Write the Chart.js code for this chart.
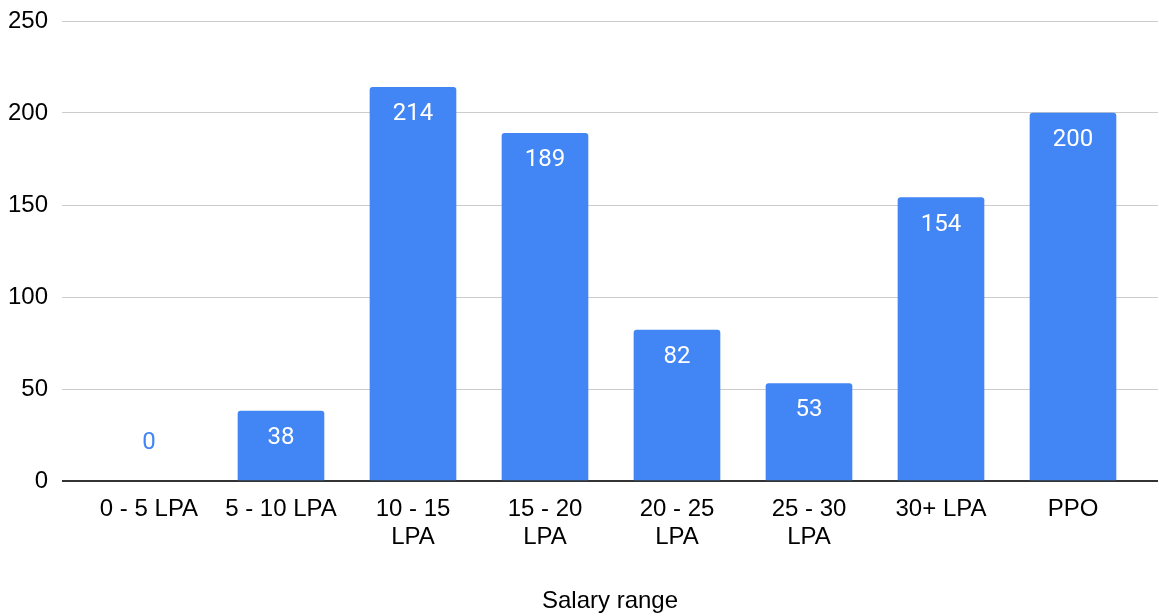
<!DOCTYPE html>
<html>
<head>
<meta charset="utf-8">
<script src="https://cdn.jsdelivr.net/npm/chart.js@4/dist/chart.umd.min.js"></script>
<style>
html,body{margin:0;padding:0;background:#fff;}
#wrap{width:1159px;height:616px;position:relative;}
</style>
</head>
<body>
<div id="wrap"><canvas id="c" width="1159" height="616"></canvas></div>
<script>
const categories = [
  '0 - 5 LPA',
  '5 - 10 LPA',
  ['10 - 15', 'LPA'],
  ['15 - 20', 'LPA'],
  ['20 - 25', 'LPA'],
  ['25 - 30', 'LPA'],
  '30+ LPA',
  'PPO'
];
const values = [0, 38, 214, 189, 82, 53, 154, 200];
const yTicks = [0, 50, 100, 150, 200, 250];
const axisTitle = 'Salary range';

const BLUE = '#4285F4';
const points = values.map((v, i) => ({ x: i, y: v }));

const labelPlugin = {
  id: 'valueLabels',
  afterDatasetsDraw(chart) {
    const ctx = chart.ctx;
    const meta = chart.getDatasetMeta(0);
    ctx.save();
    ctx.font = '24px Roboto';
    ctx.textAlign = 'center';
    ctx.textBaseline = 'middle';
    meta.data.forEach((bar, i) => {
      const v = values[i];
      if (v === 0) {
        ctx.fillStyle = BLUE;
        ctx.fillText(String(v), bar.x, bar.base - 38);
      } else {
        ctx.fillStyle = '#ffffff';
        ctx.fillText(String(v), bar.x, bar.y + 27);
      }
    });
    ctx.restore();
  }
};

new Chart(document.getElementById('c'), {
  type: 'bar',
  data: {
    datasets: [{
      data: points,
      backgroundColor: (c) => (c.raw && c.raw.y === 0) ? 'rgba(0,0,0,0)' : BLUE,
      borderRadius: 3,
      barThickness: 86
    }]
  },
  options: {
    responsive: false,
    animation: false,
    events: [],
    layout: { padding: { top: 21, right: 1, left: 0, bottom: 0 } },
    plugins: { legend: { display: false }, tooltip: { enabled: false } },
    scales: {
      x: {
        type: 'linear',
        offset: false,
        min: -0.659,
        max: 7.644,
        grid: { display: false, offset: false },
        border: { display: false },
        ticks: {
          stepSize: 1,
          includeBounds: false,
          autoSkip: false,
          maxRotation: 0,
          padding: 6,
          color: '#000',
          font: { family: 'Liberation Sans, Arial', size: 24, lineHeight: 1.17 },
          callback: (v) => (Number.isInteger(v) && categories[v] !== undefined) ? categories[v] : ''
        },
        title: {
          display: true,
          text: axisTitle,
          color: '#000',
          font: { family: 'Liberation Sans, Arial', size: 24 },
          padding: { top: 3, bottom: 0 }
        },
        afterFit(scale) { scale.height = 135; scale.paddingLeft = 0; scale.paddingRight = 0; }
      },
      y: {
        min: 0,
        max: 250,
        border: { display: false },
        grid: {
          drawTicks: false,
          color: (c) => c.tick && c.tick.value === 0 ? '#333333' : '#cccccc',
          lineWidth: (c) => c.tick && c.tick.value === 0 ? 2 : 1
        },
        afterBuildTicks(scale) { scale.ticks = yTicks.map(v => ({ value: v })); },
        ticks: {
          padding: 14,
          color: '#000',
          font: { family: 'Liberation Sans, Arial', size: 24 }
        },
        afterFit(scale) { scale.width = 62; scale.paddingTop = 0; scale.paddingBottom = 0; }
      }
    }
  },
  plugins: [labelPlugin]
});
</script>
</body>
</html>
